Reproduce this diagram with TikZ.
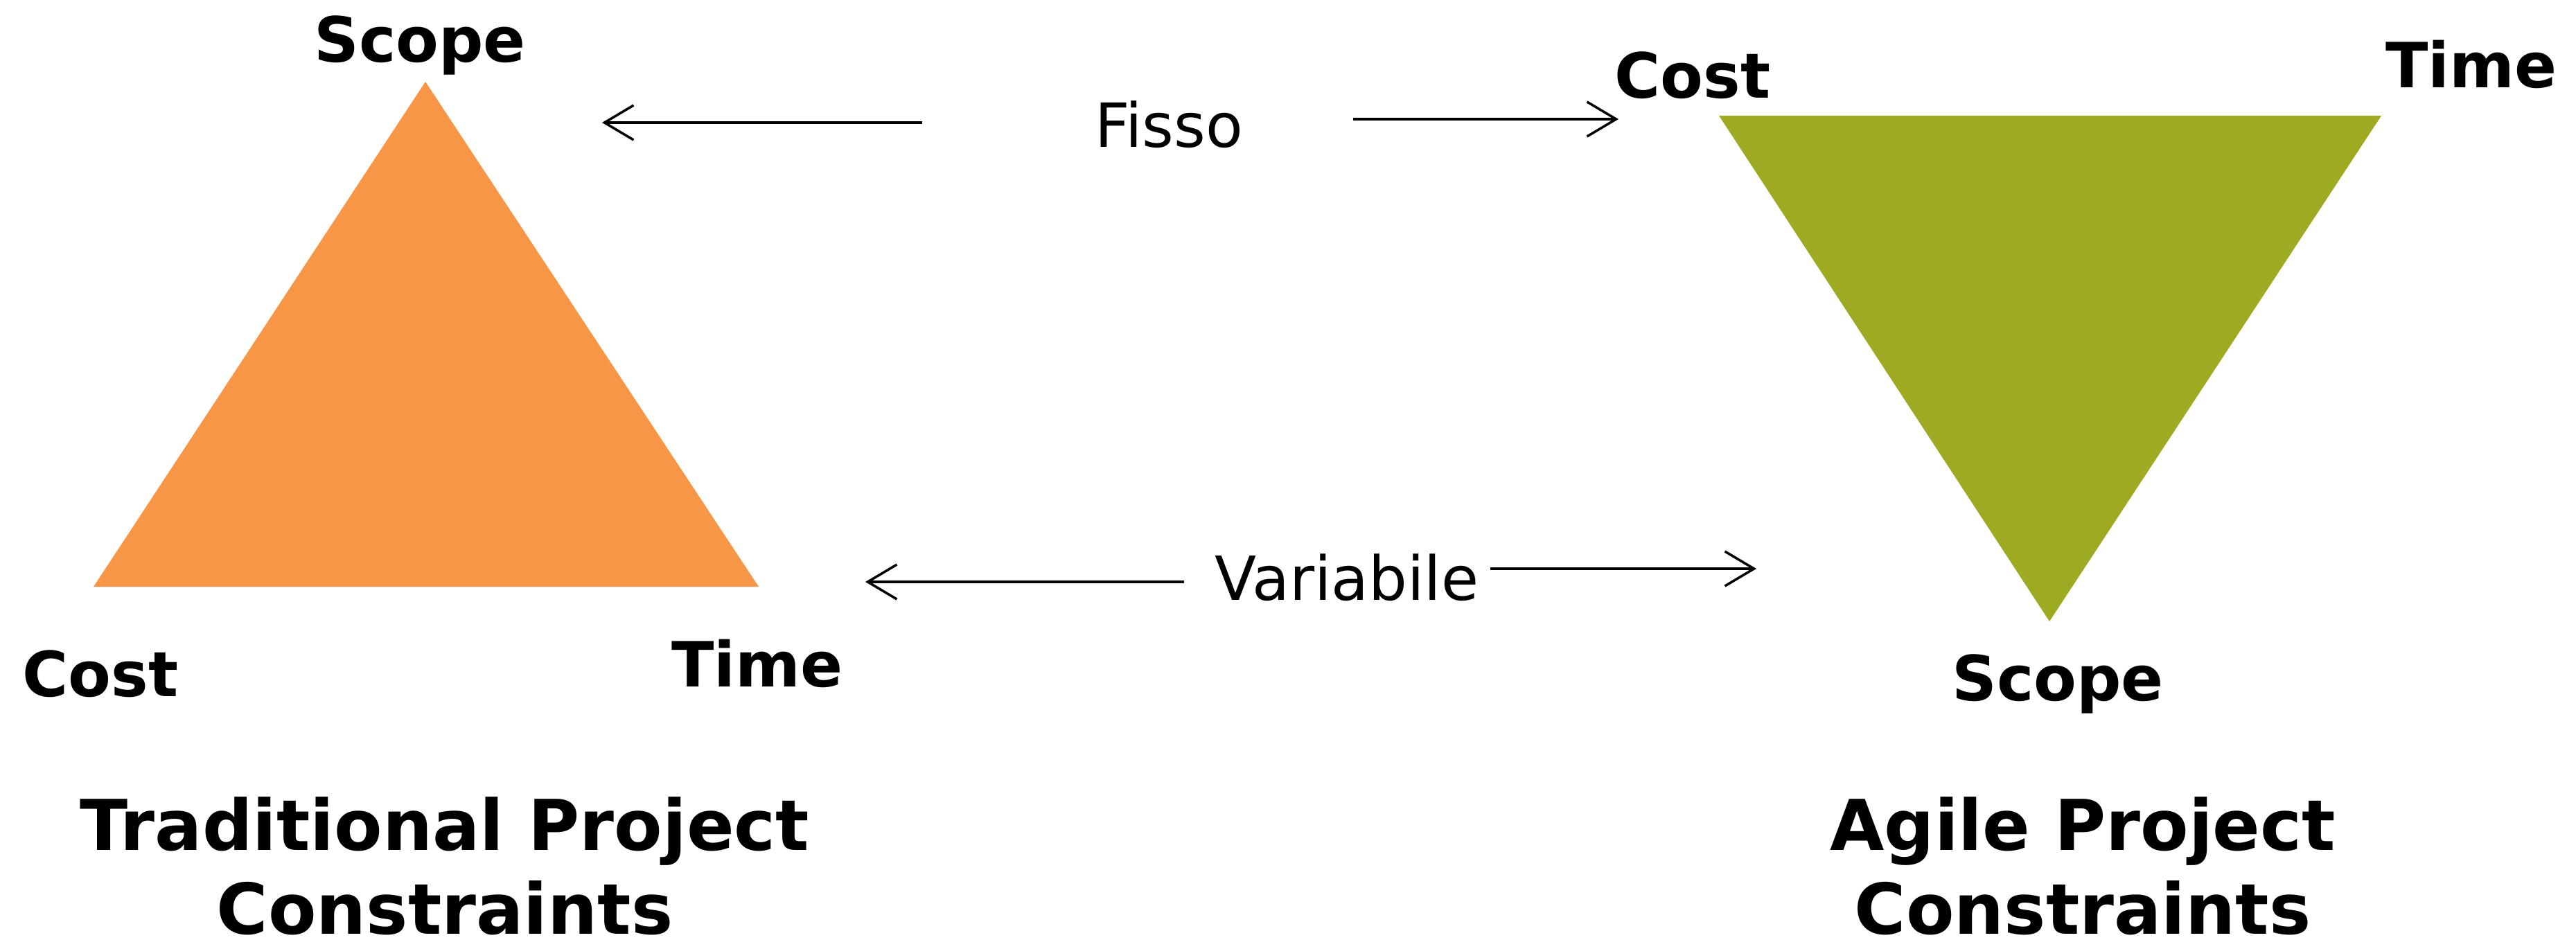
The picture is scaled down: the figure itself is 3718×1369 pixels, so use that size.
\documentclass[tikz,border=0pt]{standalone}
\usepackage{fontspec}
\setmainfont{DejaVu Sans}
\usetikzlibrary{arrows.meta}

\definecolor{tradorange}{RGB}{247,150,70}
\definecolor{agilegreen}{RGB}{158,170,34}

\begin{document}
\begin{tikzpicture}[x=0.01cm, y=-0.01cm,
    corner/.style={anchor=base, inner sep=0pt, font=\fontsize{25.6pt}{30pt}\selectfont\bfseries},
    title/.style={anchor=base, inner sep=0pt, align=center,
                  font=\fontsize{28.8pt}{34.4pt}\selectfont\bfseries},
    midlabel/.style={anchor=base, inner sep=0pt, font=\fontsize{25pt}{30pt}\selectfont},
    link/.style={line width=0.035cm, -{Straight Barb[length=0.42cm, width=0.5cm, line width=0.035cm]}}]

  % page frame
  \useasboundingbox[fill=white] (0,0) rectangle (3718,1369);

  % traditional triangle
  \coordinate (tA) at (614,118);
  \coordinate (tB) at (135,847);
  \coordinate (tC) at (1095,847);
  \fill[tradorange] (tA) -- (tB) -- (tC) -- cycle;

  % agile triangle (inverted)
  \coordinate (aA) at (2481,167);
  \coordinate (aB) at (3437,167);
  \coordinate (aC) at (2958,897);
  \fill[agilegreen] (aA) -- (aB) -- (aC) -- cycle;

  % corner labels
  \node[corner] (tscope) at (606,89)   {Scope};
  \node[corner] (tcost)  at (145,1005) {Cost};
  \node[corner] (ttime)  at (1093,991) {Time};

  \node[corner] (acost)  at (2443,141)  {Cost};
  \node[corner] (atime)  at (3567,126)  {Time};
  \node[corner] (ascope) at (2970,1011) {Scope};

  % titles (base anchor sits on the last line)
  \node[title] (ttitle) at (642,1348) {Traditional Project\\Constraints};
  \node[title] (atitle) at (3006,1348) {Agile Project\\Constraints};

  % middle labels
  \node[midlabel] (fisso) at (1687,212) {Fisso};
  \node[midlabel] (var)   at (1944,866) {Variabile};

  % arrow ends
  \coordinate (f1s) at (1331,177);
  \coordinate (f1e) at (869,177);
  \coordinate (f2s) at (1953,172);
  \coordinate (f2e) at (2336,172);
  \coordinate (v1s) at (1709,840);
  \coordinate (v1e) at (1249,840);
  \coordinate (v2s) at (2151,821);
  \coordinate (v2e) at (2535,821);

  \draw[link] (f1s) -- (f1e);
  \draw[link] (f2s) -- (f2e);
  \draw[link] (v1s) -- (v1e);
  \draw[link] (v2s) -- (v2e);
\end{tikzpicture}
\end{document}
